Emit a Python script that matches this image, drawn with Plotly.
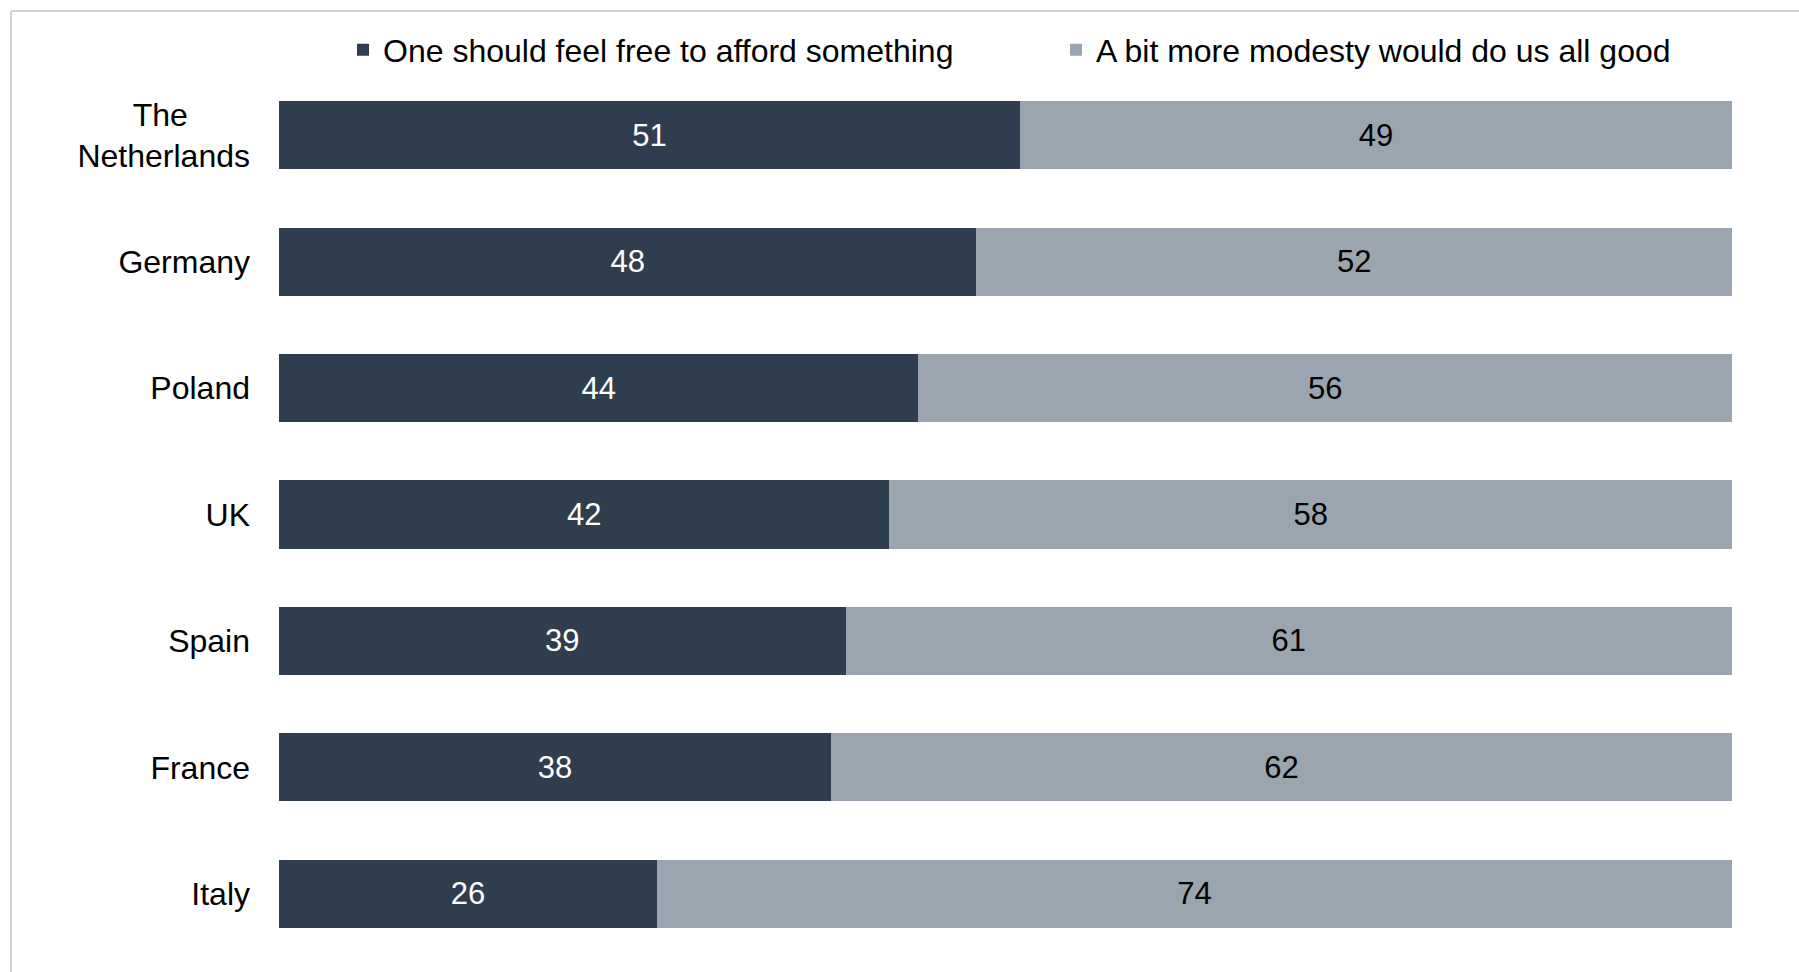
import plotly.graph_objects as go

countries = ["The Netherlands", "Germany", "Poland", "UK", "Spain", "France", "Italy"]
tick_labels = ["The" + "\u00a0" * 7 + "<br>Netherlands", "Germany", "Poland", "UK", "Spain", "France", "Italy"]
afford = [51, 48, 44, 42, 39, 38, 26]
modesty = [49, 52, 56, 58, 61, 62, 74]
series_names = ["One should feel free to afford something", "A bit more modesty would do us all good"]

DARK = "#2f3e4e"
LIGHT = "#9ba5af"
FONT = "Liberation Sans, Arial, sans-serif"
FS = 32

fig = go.Figure()
fig.add_trace(go.Bar(
    y=countries, x=afford, orientation="h", name=series_names[0],
    marker=dict(color=DARK, line=dict(width=0)),
    text=[str(v) for v in afford], textposition="inside", insidetextanchor="middle",
    textfont=dict(color="white", size=FS - 1, family=FONT),
))
fig.add_trace(go.Bar(
    y=countries, x=modesty, orientation="h", name=series_names[1],
    marker=dict(color=LIGHT, line=dict(width=0)),
    text=[str(v) for v in modesty], textposition="inside", insidetextanchor="middle",
    textfont=dict(color="black", size=FS - 1, family=FONT),
))

W, H = 1799, 972
L, R, T, B = 279, 67, 72, 15
pw, ph = W - L - R, H - T - B

def xp(px):
    return (px - L) / pw

def yp(py):
    return (H - B - py) / ph

border = "#d8d0c2"
fig.add_shape(type="line", xref="paper", yref="paper", x0=xp(11), x1=xp(W + 5), y0=yp(11), y1=yp(11),
              line=dict(color=border, width=2))
fig.add_shape(type="line", xref="paper", yref="paper", x0=xp(11), x1=xp(11), y0=yp(11), y1=yp(H + 5),
              line=dict(color=border, width=2))

fig.update_layout(
    width=W, height=H,
    margin=dict(l=L, r=R, t=T, b=B, pad=0),
    barmode="stack", bargap=0.46,
    plot_bgcolor="white", paper_bgcolor="white",
    font=dict(family=FONT, size=FS, color="black"),
    xaxis=dict(range=[0, 100], visible=False, fixedrange=True),
    yaxis=dict(autorange="reversed", tickmode="array", tickvals=countries, ticktext=tick_labels,
               ticks="", showline=False, showgrid=False, zeroline=False, ticklabelstandoff=28,
               tickfont=dict(size=FS, family=FONT, color="black"), fixedrange=True),
    legend=dict(orientation="h", xref="paper", yref="paper", x=xp(343), y=yp(50),
                xanchor="left", yanchor="middle", entrywidth=668, entrywidthmode="pixels",
                font=dict(size=FS, family=FONT, color="black"), bgcolor="rgba(0,0,0,0)", borderwidth=0,
                traceorder="normal", itemclick=False, itemdoubleclick=False),
    uniformtext=dict(minsize=FS - 1, mode="show"),
)

fig.write_html("out.html", config={"displayModeBar": False},
               post_script="document.body.style.margin='0';")
